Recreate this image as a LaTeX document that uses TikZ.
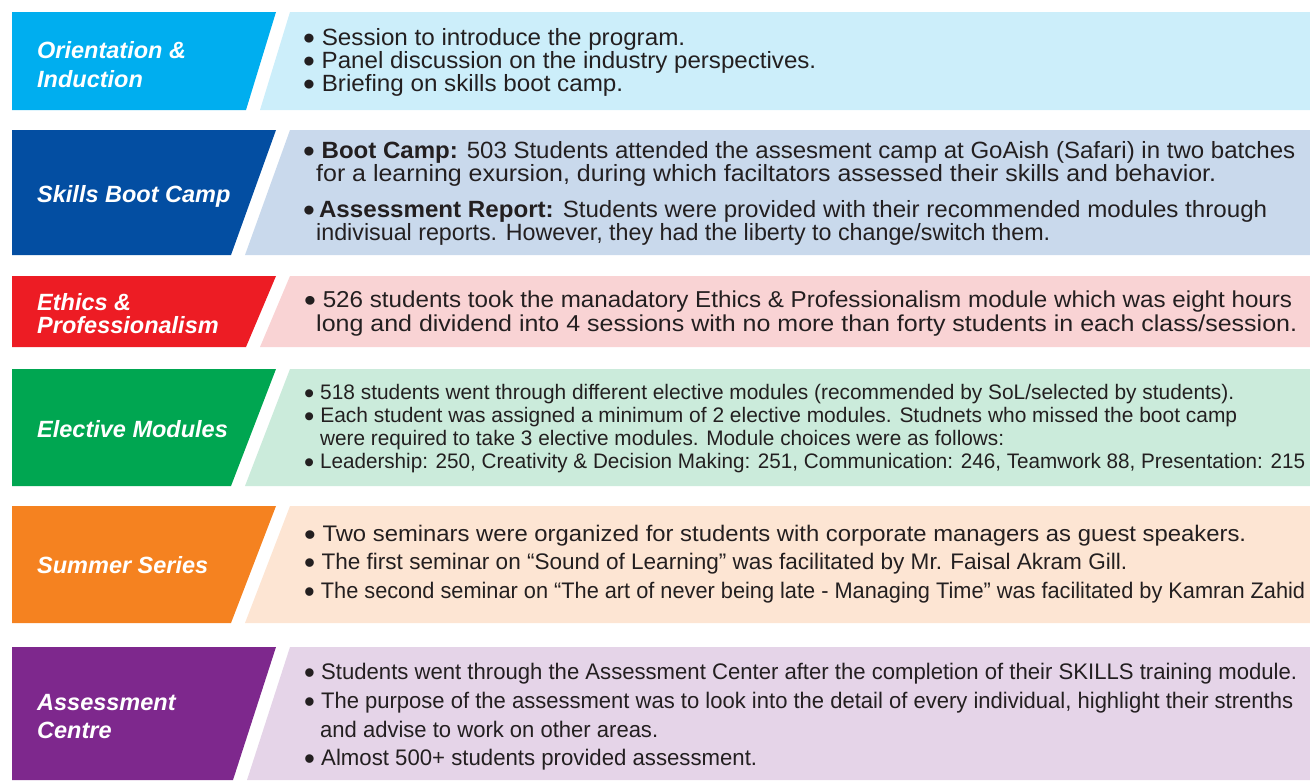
\documentclass[tikz,border=0pt]{standalone}
\usepackage{fontspec}
\setmainfont{Liberation Sans}
\usepackage{graphicx}

\definecolor{oriDark}{HTML}{00AEEF}
\definecolor{oriLight}{HTML}{CCEEFA}
\definecolor{bootDark}{HTML}{034EA2}
\definecolor{bootLight}{HTML}{C9D9EC}
\definecolor{ethDark}{HTML}{ED1C24}
\definecolor{ethLight}{HTML}{F9D3D4}
\definecolor{elecDark}{HTML}{00A651}
\definecolor{elecLight}{HTML}{CBEBDB}
\definecolor{sumDark}{HTML}{F58220}
\definecolor{sumLight}{HTML}{FDE5D3}
\definecolor{assDark}{HTML}{7E288D}
\definecolor{assLight}{HTML}{E5D4E8}
\definecolor{ink}{HTML}{231F20}

% squeeze a line to the width it has in the picture
\newcommand{\fitto}[2]{\resizebox{#1pt}{\height}{#2}}
% bigger bullet
\newcommand{\bul}{\smash{\raisebox{-0.2em}{\scalebox{1.4}{\textbullet}}}}

\tikzset{
  phase/.style={anchor=base west, inner sep=0pt, text=white,
    font=\fontsize{23.5}{27}\selectfont\bfseries\itshape},
  txtline/.style={anchor=base west, inner sep=0pt, text=ink,
    font=\fontsize{#1}{#1}\selectfont},
  txtline/.default=22
}

\begin{document}
\begin{tikzpicture}[x=1pt, y=-1pt]

\useasboundingbox (0,0) rectangle (1310,780);

% Orientation & Induction
\fill[oriDark] (12,12) -- (276,12) -- (246,110) -- (12,110) -- cycle;
\fill[oriLight] (290,12) -- (1310,12) -- (1310,110) -- (260,110) -- cycle;
\node[phase] (ori1) at (37,58) {Orientation \&};
\node[phase] (ori2) at (37,87) {Induction};
\node[txtline=23.5] (o1) at (303,45) {\fitto{382}{\bul\ Session to introduce the program.}};
\node[txtline=23.5] (o2) at (303,68) {\fitto{513}{\bul\ Panel discussion on the industry perspectives.}};
\node[txtline=23.5] (o3) at (303,91) {\fitto{320}{\bul\ Briefing on skills boot camp.}};

% Skills Boot Camp
\fill[bootDark] (12,130) -- (276,130) -- (231,255) -- (12,255) -- cycle;
\fill[bootLight] (290,130) -- (1310,130) -- (1310,255) -- (245,255) -- cycle;
\node[phase] (boot) at (37,202) {Skills Boot Camp};
\node[txtline=23.5] (b1) at (303,158) {\fitto{992}{\bul\ \textbf{Boot Camp:} 503 Students attended the assesment camp at GoAish (Safari) in two batches}};
\node[txtline=23.5] (b2) at (316,181) {\fitto{900}{for a learning exursion, during which faciltators assessed their skills and behavior.}};
\node[txtline=23.5] (b3) at (303,217) {\fitto{964}{\bul\,\textbf{Assessment Report:} Students were provided with their recommended modules through}};
\node[txtline=23.5] (b4) at (316,240) {\fitto{734}{indivisual reports. However, they had the liberty to change/switch them.}};

% Ethics & Professionalism
\fill[ethDark] (12,276) -- (276,276) -- (246,347) -- (12,347) -- cycle;
\fill[ethLight] (290,276) -- (1310,276) -- (1310,347) -- (260,347) -- cycle;
\node[phase] (eth1) at (37,310) {Ethics \&};
\node[phase] (eth2) at (37,333) {Professionalism};
\node[txtline=23] (e1) at (304,307) {\fitto{988}{\bul\ 526 students took the manadatory Ethics \& Professionalism module which was eight hours}};
\node[txtline=23] (e2) at (316,331) {\fitto{981}{long and dividend into 4 sessions with no more than forty students in each class/session.}};

% Elective Modules
\fill[elecDark] (12,369) -- (276,369) -- (231,486) -- (12,486) -- cycle;
\fill[elecLight] (290,369) -- (1310,369) -- (1310,486) -- (245,486) -- cycle;
\node[phase] (elec) at (37,437) {Elective Modules};
\node[txtline=21] (m1) at (304,399) {\fitto{930}{\bul\ 518 students went through different elective modules (recommended by SoL/selected by students).}};
\node[txtline=21] (m2) at (304,422) {\fitto{933}{\bul\ Each student was assigned a minimum of 2 elective modules. Studnets who missed the boot camp}};
\node[txtline=21] (m3) at (320,445) {\fitto{684}{were required to take 3 elective modules. Module choices were as follows:}};
\node[txtline=21] (m4) at (304,468) {\fitto{1001}{\bul\ Leadership: 250, Creativity \& Decision Making: 251, Communication: 246, Teamwork 88, Presentation: 215}};

% Summer Series
\fill[sumDark] (12,506) -- (276,506) -- (231,623) -- (12,623) -- cycle;
\fill[sumLight] (290,506) -- (1310,506) -- (1310,623) -- (245,623) -- cycle;
\node[phase] (sum) at (37,573) {Summer Series};
\node[txtline=22.5] (s1) at (304,541) {\fitto{942}{\bul\ Two seminars were organized for students with corporate managers as guest speakers.}};
\node[txtline=22.5] (s2) at (304,569) {\fitto{823}{\bul\ The first seminar on “Sound of Learning” was facilitated by Mr. Faisal Akram Gill.}};
\node[txtline=22.5] (s3) at (304,598) {\fitto{1001}{\bul\ The second seminar on “The art of never being late - Managing Time” was facilitated by Kamran Zahid}};

% Assessment Centre
\fill[assDark] (12,647) -- (276,647) -- (233,780) -- (12,780) -- cycle;
\fill[assLight] (290,647) -- (1310,647) -- (1310,780) -- (247,780) -- cycle;
\node[phase] (ass1) at (37,710) {Assessment};
\node[phase] (ass2) at (37,738) {Centre};
\node[txtline=22.5] (a1) at (304,679) {\fitto{993}{\bul\ Students went through the Assessment Center after the completion of their SKILLS training module.}};
\node[txtline=22.5] (a2) at (304,708) {\fitto{989}{\bul\ The purpose of the assessment was to look into the detail of every individual, highlight their strenths}};
\node[txtline=22.5] (a3) at (320,737) {\fitto{338}{and advise to work on other areas.}};
\node[txtline=22.5] (a4) at (304,765) {\fitto{453}{\bul\ Almost 500+ students provided assessment.}};

\end{tikzpicture}
\end{document}
